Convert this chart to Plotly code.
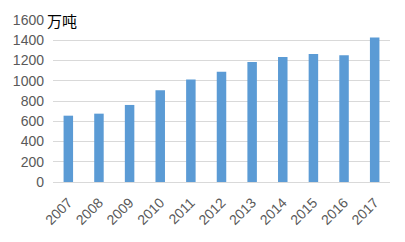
import plotly.graph_objects as go

years = ["2007", "2008", "2009", "2010", "2011", "2012", "2013", "2014", "2015", "2016", "2017"]
values = [655, 675, 761, 906, 1012, 1089, 1186, 1234, 1263, 1253, 1427]
y_ticks = [0, 200, 400, 600, 800, 1000, 1200, 1400, 1600]
unit_label = "万吨"

fig = go.Figure(go.Bar(x=years, y=values, marker=dict(color="#5B9BD5", line=dict(width=0))))

fig.update_layout(
    width=405, height=242,
    margin=dict(l=53, r=15, t=16, b=60),
    paper_bgcolor="white", plot_bgcolor="white",
    bargap=0.69,
    showlegend=False,
    font=dict(family="Liberation Sans, Arial, sans-serif", size=14, color="#595959"),
    xaxis=dict(type="category", tickangle=-45, showgrid=False, showline=True,
               linecolor="#D9D9D9", linewidth=1, ticks="", ticklabelstandoff=6,
               tickfont=dict(size=14, color="#595959")),
    yaxis=dict(range=[0, 1600], tickvals=y_ticks, showgrid=True, gridcolor="#D9D9D9",
               gridwidth=1, zeroline=False, ticks="", ticklabelstandoff=8,
               tickfont=dict(size=14, color="#595959")),
    annotations=[dict(text=unit_label, xref="paper", yref="paper",
                      x=(45 - 53) / 337, y=1.0, xanchor="left", yanchor="middle",
                      showarrow=False,
                      font=dict(family="Noto Sans CJK SC", size=15, color="#000000"))],
)

fig.write_html("out.html")
